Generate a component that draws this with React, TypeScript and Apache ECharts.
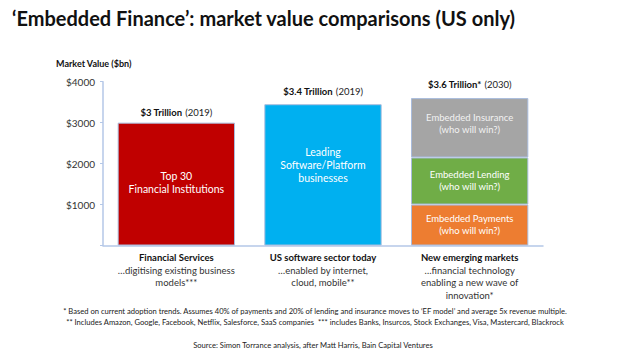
import React, { useEffect, useRef } from "react";
import * as echarts from "echarts";

const categories = ["Financial Services", "US software sector today", "New emerging markets"];
const categorySubtitles = [
  ["…digitising existing business", "models***"],
  ["…enabled by internet,", "cloud, mobile**"],
  ["…financial technology", "enabling a new wave of", "innovation*"],
];
const baseValues = [3000, 3450, 1000];
const midValues = [null, null, 1150];
const topValues = [null, null, 1450];
const baseColors = ["#C00000", "#00B0F0", "#ED7D31"];
const midColor = "#70AD47";
const topColor = "#A5A5A5";
const baseInside = ["Top 30\nFinancial Institutions", "Leading\nSoftware/Platform\nbusinesses", "Embedded Payments\n(who will win?)"];
const midInside = ["", "", "Embedded Lending\n(who will win?)"];
const topInside = ["", "", "Embedded Insurance\n(who will win?)"];
const totalBold = ["$3 Trillion", "$3.4 Trillion", "$3.6 Trillion*"];
const totalYear = ["(2019)", "(2019)", "(2030)"];

const FONT = "Lato, 'Open Sans', sans-serif";

export default function App() {
  const ref = useRef<HTMLDivElement>(null);
  useEffect(() => {
    const chart = echarts.init(ref.current!, undefined, { renderer: "svg" });
    const topRich = {
      b: { fontWeight: "bold", fontSize: 9.5, color: "#111", fontFamily: FONT },
      n: { fontSize: 9.5, color: "#222", fontFamily: FONT },
    };
    const topLabel = (i: number, dist: number) => ({
      show: true,
      position: "top",
      distance: dist,
      formatter: `{b|${totalBold[i]}} {n|${totalYear[i]}}`,
      rich: topRich,
    });
    const insideLabel = (text: string, size: number, color: string, offset: number[], lh: number) => ({
      show: !!text,
      position: "inside",
      formatter: text,
      color,
      fontSize: size,
      fontFamily: FONT,
      lineHeight: lh,
      offset,
    });
    const border = { borderColor: "#A9BCDD", borderWidth: 1 };
    const baseData = baseValues.map((v, i) => ({
      value: v,
      itemStyle: { color: baseColors[i], ...border },
      label:
        i < 2
          ? insideLabel(baseInside[i], 10.5, "#fff", i === 0 ? [0, -2] : [0, -10], 13)
          : insideLabel(baseInside[i], 9.5, "#fff", [0, -1], 12),
    }));
    const midData = midValues.map((v, i) => ({
      value: v,
      itemStyle: { color: midColor, ...border },
      label: insideLabel(midInside[i], 9.5, "#fff", [0, -1], 12),
    }));
    const topData = topValues.map((v, i) => ({
      value: v,
      itemStyle: { color: topColor, ...border },
      label: insideLabel(topInside[i], 9.5, "#f2f2f2", [0, -4], 12.3),
    }));
    // invisible overlay series carrying the total labels
    const totals = baseValues.map((v, i) => (v || 0) + (midValues[i] || 0) + (topValues[i] || 0));
    const totalLabelSeries = totals.map((t, i) => ({
      value: t,
      label: topLabel(i, i === 0 ? 4 : i === 1 ? 7 : 8),
    }));

    chart.setOption({
      animation: false,
      textStyle: { fontFamily: FONT },
      grid: { left: 103, right: 81, top: 81.7, bottom: 109.5 },
      xAxis: {
        type: "category",
        data: categories,
        axisLine: { lineStyle: { color: "#B4C7E7", width: 1.5 } },
        axisTick: { show: false },
        axisLabel: {
          margin: 6,
          interval: 0,
          formatter: (val: string, idx: number) =>
            [`{b|${val}}`, ...categorySubtitles[idx].map((s) => `{n|${s}}`)].join("\n"),
          rich: {
            b: { fontWeight: "bold", fontSize: 9.5, color: "#111", lineHeight: 12.5, fontFamily: FONT },
            n: { fontSize: 9.5, color: "#333", lineHeight: 12.5, fontFamily: FONT },
          },
        },
      },
      yAxis: {
        type: "value",
        min: 0,
        max: 4000,
        interval: 1000,
        name: "Market Value ($bn)",
        nameLocation: "end",
        nameGap: 14,
        nameTextStyle: { fontWeight: "bold", fontSize: 9, color: "#111", align: "left", padding: [0, 0, 0, -47], fontFamily: FONT },
        axisLine: { show: true, lineStyle: { color: "#B4C7E7", width: 1.5 } },
        axisTick: { show: true, length: 3, lineStyle: { color: "#B4C7E7" } },
        splitLine: { show: false },
        axisLabel: {
          fontSize: 10,
          color: "#333",
          margin: 8,
          fontFamily: FONT,
          formatter: (v: number) => (v === 0 ? "" : `$${v}`),
        },
      },
      series: [
        { type: "bar", stack: "s", barWidth: "80%", data: baseData },
        { type: "bar", stack: "s", barWidth: "80%", data: midData },
        { type: "bar", stack: "s", barWidth: "80%", data: topData },
        {
          type: "bar",
          barGap: "-100%",
          barWidth: "80%",
          itemStyle: { color: "transparent" },
          silent: true,
          z: 10,
          data: totalLabelSeries,
        },
      ],
      graphic: [
        {
          type: "text",
          left: 12,
          top: 8,
          style: {
            text: "‘Embedded Finance’: market value comparisons (US only)",
            fontSize: 20,
            fontWeight: "bold",
            fill: "#111",
            fontFamily: FONT,
          },
        },
        {
          type: "text",
          x: 315,
          y: 311,
          style: {
            text: "* Based on current adoption trends. Assumes 40% of payments and 20% of lending and insurance moves to ‘EF model’ and average 5x revenue multiple.",
            fontSize: 7.6,
            fill: "#222",
            align: "center",
            verticalAlign: "middle",
            fontFamily: FONT,
          },
        },
        {
          type: "text",
          x: 315,
          y: 322,
          style: {
            text: "** Includes Amazon, Google, Facebook, Netflix, Salesforce, SaaS companies  *** includes Banks, Insurcos, Stock Exchanges, Visa, Mastercard, Blackrock",
            fontSize: 7.6,
            fill: "#222",
            align: "center",
            verticalAlign: "middle",
            fontFamily: FONT,
          },
        },
        {
          type: "text",
          x: 313,
          y: 345,
          style: {
            text: "Source: Simon Torrance analysis, after Matt Harris, Bain Capital Ventures",
            fontSize: 7.6,
            fill: "#222",
            align: "center",
            verticalAlign: "middle",
            fontFamily: FONT,
          },
        },
      ],
    });
    return () => chart.dispose();
  }, []);
  return <div ref={ref} style={{ width: 624, height: 355, position: "absolute", left: 0, top: 0 }} />;
}
